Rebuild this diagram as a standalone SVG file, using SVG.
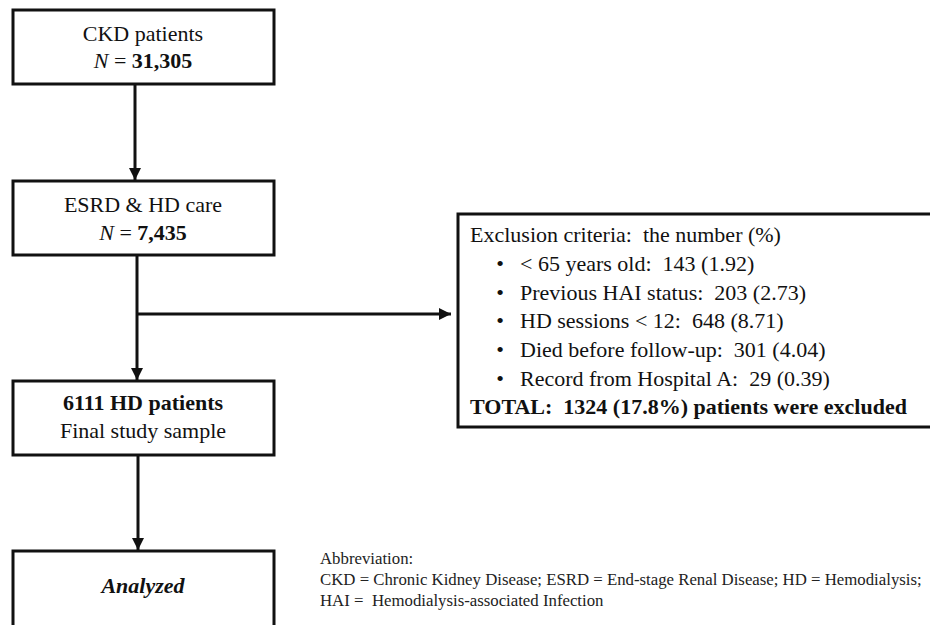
<svg xmlns="http://www.w3.org/2000/svg" width="930" height="625" viewBox="0 0 930 625">
<style>
  .box { fill: #ffffff; stroke: #111111; stroke-width: 3; }
  .t { font-family: 'Liberation Serif', 'DejaVu Serif', serif; font-size: 22px; fill: #111111; }
  .c { text-anchor: middle; }
  .b { font-weight: bold; }
  .i { font-style: italic; }
  .small { font-family: 'Liberation Serif', 'DejaVu Serif', serif; font-size: 16.8px; fill: #222222; }
  .conn { stroke: #111111; stroke-width: 3; fill: none; }
</style>
<defs>
  <marker id="arrow" markerUnits="userSpaceOnUse" markerWidth="14" markerHeight="14" refX="12" refY="7" orient="auto">
    <path d="M0,1 L12,7 L0,13 Z" fill="#111111"/>
  </marker>
</defs>
<rect x="0" y="0" width="930" height="625" fill="#ffffff"/>
<g id="connectors">
  <line class="conn" x1="135" y1="85" x2="135" y2="180" marker-end="url(#arrow)"/>
  <line class="conn" x1="137" y1="256" x2="137" y2="380" marker-end="url(#arrow)"/>
  <line class="conn" x1="137" y1="314" x2="451" y2="314" marker-end="url(#arrow)"/>
  <line class="conn" x1="138" y1="456" x2="138" y2="550" marker-end="url(#arrow)"/>
</g>
<g id="node-ckd">
  <rect class="box" x="13" y="10" width="261" height="74"/>
  <text class="t c" x="143" y="41">CKD patients</text>
  <text class="t c" x="143" y="68"><tspan class="i">N</tspan> = <tspan class="b">31,305</tspan></text>
</g>
<g id="node-esrd">
  <rect class="box" x="13" y="181" width="261" height="74"/>
  <text class="t c" x="143" y="212">ESRD &amp; HD care</text>
  <text class="t c" x="143" y="240"><tspan class="i">N</tspan> = <tspan class="b">7,435</tspan></text>
</g>
<g id="node-final">
  <rect class="box" x="13" y="381" width="261" height="74"/>
  <text class="t c b" x="143" y="410">6111 HD patients</text>
  <text class="t c" x="143" y="438">Final study sample</text>
</g>
<g id="node-analyzed">
  <rect class="box" x="13" y="551" width="261" height="90"/>
  <text class="t c b i" x="143" y="593">Analyzed</text>
</g>
<g id="node-exclusion">
  <rect class="box" x="458" y="214" width="480" height="213"/>
  <text class="t" x="470" y="242" xml:space="preserve">Exclusion criteria:  the number (%)</text>
  <text class="t c" x="500" y="271">•</text>
  <text class="t" x="520" y="271" xml:space="preserve">&lt; 65 years old:  143 (1.92)</text>
  <text class="t c" x="500" y="300">•</text>
  <text class="t" x="520" y="300" xml:space="preserve">Previous HAI status:  203 (2.73)</text>
  <text class="t c" x="500" y="328">•</text>
  <text class="t" x="520" y="328" xml:space="preserve">HD sessions &lt; 12:  648 (8.71)</text>
  <text class="t c" x="500" y="357">•</text>
  <text class="t" x="520" y="357" xml:space="preserve">Died before follow-up:  301 (4.04)</text>
  <text class="t c" x="500" y="386">•</text>
  <text class="t" x="520" y="386" xml:space="preserve">Record from Hospital A:  29 (0.39)</text>
  <text class="t b" x="470" y="414" xml:space="preserve">TOTAL:  1324 (17.8%) patients were excluded</text>
</g>
<g id="abbreviation">
  <text class="small" x="320" y="564">Abbreviation:</text>
  <text class="small" x="320" y="585">CKD = Chronic Kidney Disease; ESRD = End-stage Renal Disease; HD = Hemodialysis;</text>
  <text class="small" x="320" y="606" xml:space="preserve">HAI =  Hemodialysis-associated Infection</text>
</g>
</svg>
